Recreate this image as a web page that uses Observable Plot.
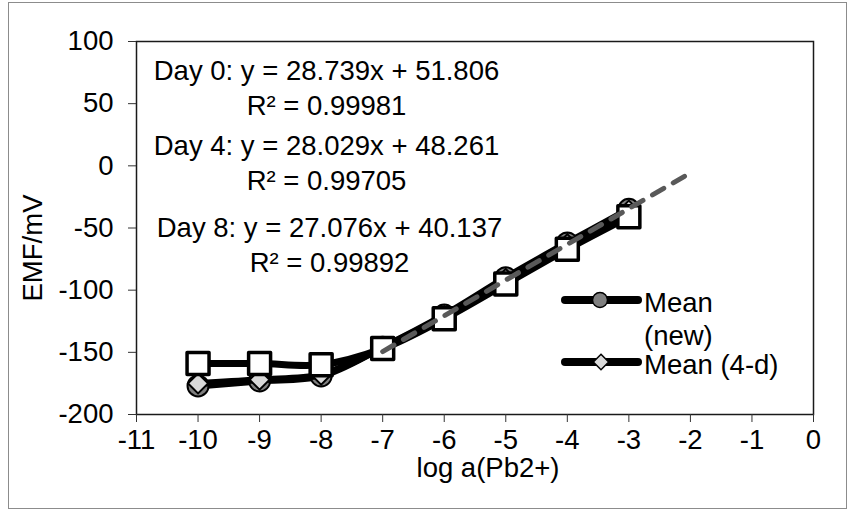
<!DOCTYPE html>
<html>
<head>
<meta charset="utf-8">
<script src="https://cdn.jsdelivr.net/npm/d3@7"></script>
<script src="https://cdn.jsdelivr.net/npm/@observablehq/plot@0.6"></script>
<style>
  html, body { margin: 0; padding: 0; background: #fff; }
  #wrap { position: relative; width: 849px; height: 512px; font-family: "Liberation Sans", Arial, sans-serif; }
  #border { position: absolute; left: 8px; top: 2px; width: 837px; height: 505px; border: 1px solid #8c8c8c; pointer-events: none; }
  svg { display: block; }
</style>
</head>
<body>
<div id="wrap"><div id="border"></div></div>
<script>
// ---- data ----
const logA     = [-10, -9, -8, -7, -6, -5, -4, -3];
const meanNew  = [-177, -173, -169, -146, -120, -90, -62, -35];   // circles, "Mean (new)"
const mean4d   = [-175, -172, -168, -146, -121, -91, -63, -36];   // diamonds, "Mean (4-d)"
const series3  = [-159, -159, -160, -147, -123, -95, -67, -41];   // squares (unlabelled)
const xTicks   = [-11, -10, -9, -8, -7, -6, -5, -4, -3, -2, -1, 0];
const yTicks   = [-200, -150, -100, -50, 0, 50, 100];
const eqLines  = ["Day 0: y = 28.739x + 51.806", "Day 4: y = 28.029x + 48.261", "Day 8: y = 27.076x + 40.137"];
const r2Lines  = ["R² = 0.99981", "R² = 0.99705", "R² = 0.99892"];
const trendSlope = 28.739, trendIntercept = 51.806;
const trendX   = [-7, -2];
const legendNames = [["Mean", "(new)"], ["Mean (4-d)"]];

const FS = 27.5;
const rows = ys => logA.map((x, i) => ({x, y: ys[i]}));
const trend = trendX.map(x => ({x, y: trendSlope * x + trendIntercept}));

const eqCenters = [[190, 44.8], [190, 119.5], [193, 201.5]]; // offsets from the frame's top-left

const chart = Plot.plot({
  width: 849, height: 512,
  marginLeft: 136, marginRight: 36, marginTop: 41, marginBottom: 98,
  style: {fontFamily: "Liberation Sans, Arial, sans-serif", fontSize: FS + "px", color: "black", background: "transparent", overflow: "visible"},
  x: {domain: [-11, 0]},
  y: {domain: [-200, 100]},
  marks: [
    Plot.frame({stroke: "#1a1a1a", strokeWidth: 1.5}),
    Plot.axisX({ticks: xTicks, tickSize: 8, tickPadding: 7, tickFormat: d => String(d), label: null, fontSize: FS, stroke: "#333"}),
    Plot.axisY({ticks: yTicks, tickSize: 8, tickPadding: 15, tickFormat: d => String(d), label: null, fontSize: FS, stroke: "#333"}),
    Plot.text(["log a(Pb2+)"], {frameAnchor: "bottom", dx: 13, dy: 54, lineAnchor: "middle", fontSize: FS, fill: "black"}),
    Plot.text(["EMF/mV"], {frameAnchor: "left", dx: -103, dy: 20, rotate: -90, textAnchor: "middle", lineAnchor: "middle", fontSize: FS, fill: "black"}),
    // series lines + markers
    Plot.line(rows(meanNew), {x: "x", y: "y", stroke: "black", strokeWidth: 7, curve: "catmull-rom", strokeLinejoin: "round", strokeLinecap: "round"}),
    Plot.dot(rows(meanNew), {x: "x", y: "y", r: 10.5, fill: "#808080", stroke: "black", strokeWidth: 2}),
    Plot.line(rows(mean4d), {x: "x", y: "y", stroke: "black", strokeWidth: 7, curve: "catmull-rom", strokeLinejoin: "round", strokeLinecap: "round"}),
    Plot.dot(rows(mean4d), {x: "x", y: "y", r: 9, symbol: "diamond2", fill: "#d9d9d9", stroke: "black", strokeWidth: 2}),
    Plot.line(rows(series3), {x: "x", y: "y", stroke: "black", strokeWidth: 7, curve: "catmull-rom", strokeLinejoin: "round", strokeLinecap: "round"}),
    Plot.dot(rows(series3), {x: "x", y: "y", r: 12.4, symbol: "square", fill: "white", stroke: "black", strokeWidth: 3.5, strokeLinejoin: "round"}),
    // trend line
    Plot.line(trend, {x: "x", y: "y", stroke: "#595959", strokeWidth: 5, strokeDasharray: "13,11", strokeLinecap: "round"}),
    // equations
    ...eqLines.map((eq, i) => Plot.text([eq + "\n" + r2Lines[i]], {
      frameAnchor: "top-left", dx: eqCenters[i][0], dy: eqCenters[i][1],
      textAnchor: "middle", lineAnchor: "middle", lineHeight: 35 / FS, fontSize: FS, fill: "black"
    }))
  ]
});
document.getElementById("wrap").appendChild(chart);

// legend (inside the plot area, right side)
const svg = d3.select(chart);
const lg = svg.append("g").attr("font-family", "Liberation Sans, Arial, sans-serif").attr("font-size", FS).attr("text-anchor", "start");
const keys = [
  {y: 300, marker: "circle", fill: "#808080", text: legendNames[0]},
  {y: 362, marker: "diamond", fill: "#d9d9d9", text: legendNames[1]}
];
keys.forEach(k => {
  lg.append("line").attr("x1", 565).attr("x2", 638).attr("y1", k.y).attr("y2", k.y)
    .attr("stroke", "black").attr("stroke-width", 8).attr("stroke-linecap", "round");
  if (k.marker === "circle") {
    lg.append("circle").attr("cx", 600).attr("cy", k.y).attr("r", 7.5).attr("fill", k.fill).attr("stroke", "black").attr("stroke-width", 1.5);
  } else {
    lg.append("path").attr("d", d3.symbol(d3.symbolDiamond2, 150)()).attr("transform", `translate(601,${k.y})`)
      .attr("fill", k.fill).attr("stroke", "black").attr("stroke-width", 1.5);
  }
  k.text.forEach((t, j) => {
    lg.append("text").attr("x", 644).attr("y", k.y + 2 + j * 33).attr("dy", "0.36em").attr("text-anchor", "start").attr("fill", "black").text(t);
  });
});
</script>
</body>
</html>
